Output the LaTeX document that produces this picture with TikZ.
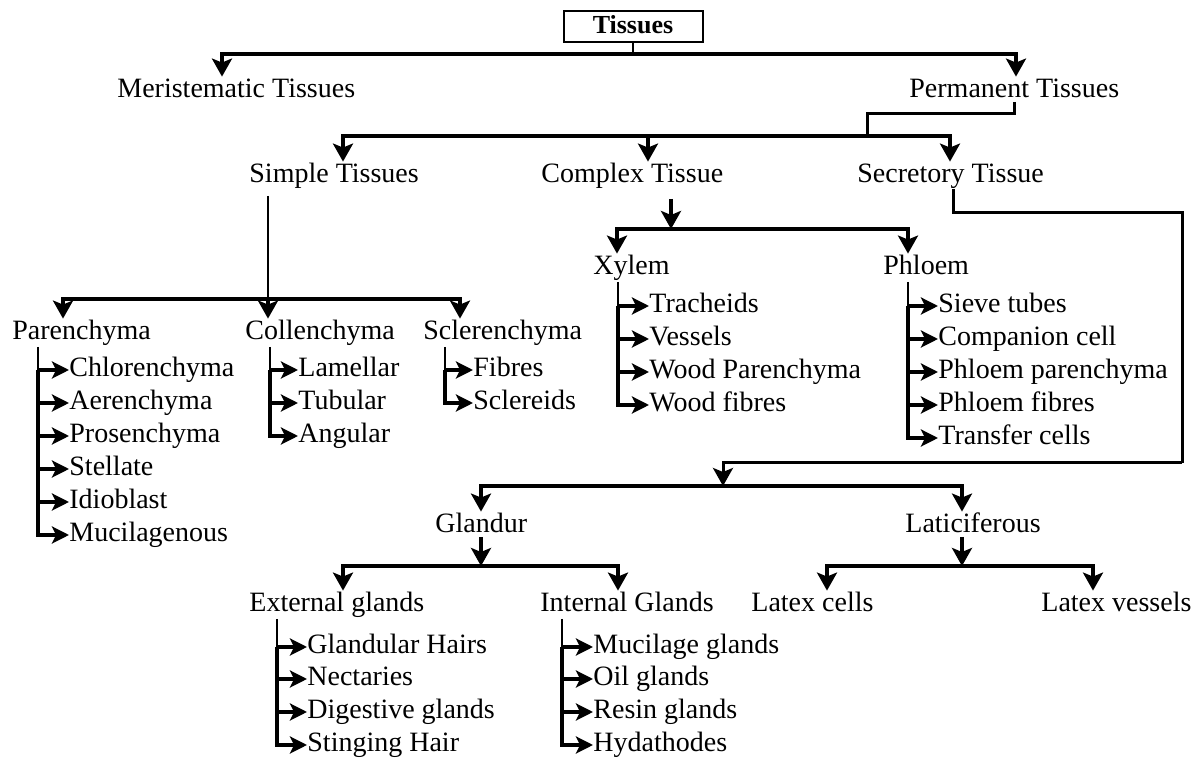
\documentclass[tikz,border=0pt]{standalone}
\usepackage{fontspec}
\setmainfont{Liberation Serif}
\usetikzlibrary{arrows.meta}

\begin{document}
\begin{tikzpicture}[
    x=0.5pt, y=-0.5pt,
    every node/.style={font=\fontsize{14}{17}\selectfont, text=black,
      inner sep=0pt, text height=10.5pt, text depth=3.5pt},
    lbl/.style={anchor=base west},
    rootbox/.style={draw, line width=1pt, font=\fontsize{13}{16}\selectfont\bfseries,
      minimum width=69.5pt, minimum height=15.5pt},
    busarrow/.style={line width=2pt, -{Stealth[length=9pt,width=10pt,inset=2pt]}},
    linkline/.style={line width=1.5pt},
    linkarrow/.style={line width=1.5pt, -{Stealth[length=9pt,width=10pt,inset=2pt]}},
    stemline/.style={line width=0.6pt},
    itemarrow/.style={line width=2pt, -{Stealth[length=8.5pt,width=8.5pt,inset=2pt]}},
  ]
  \useasboundingbox (0,0) rectangle (1196,758);

  %--------------------------------------
  % 1) Root and first split
  %--------------------------------------
  \node[rootbox] (tis) at (633,27) {Tissues};
  \coordinate (b0)  at (633,54);
  \coordinate (b0l) at (222,54);
  \coordinate (b0r) at (1016,54);

  \node[lbl] (mer)  at (117,98) {Meristematic Tissues};
  \node[lbl] (perm) at (909,98) {Permanent Tissues};

  \draw[stemline] (tis.south) -- (b0);
  \draw[busarrow] (b0) -- (b0l) -- (b0l |- mer.north);
  \draw[busarrow] (b0) -- (b0r) -- (b0r |- perm.north);

  %--------------------------------------
  % 2) Permanent tissues: simple, complex, secretory
  %--------------------------------------
  \coordinate (permS) at (1014,102);
  \coordinate (b1j) at (867,136);
  \coordinate (b1l) at (343,136);
  \coordinate (b1m) at (648,136);
  \coordinate (b1r) at (950,136);

  \node[lbl] (simp) at (249,183) {Simple Tissues};
  \node[lbl] (cplx) at (541,183) {Complex Tissue};
  \node[lbl] (secr) at (857,183) {Secretory Tissue};

  \draw[linkline] (permS) -- ++(0,12) -| (b1j);
  \draw[busarrow] (b1j) -- (b1l) -- (b1l |- simp.north);
  \draw[busarrow] (b1j) -- (b1r) -- (b1r |- secr.north);
  \draw[busarrow] (b1m) -- (b1m |- cplx.north);

  %--------------------------------------
  % 3) Simple tissues
  %--------------------------------------
  \coordinate (simpS) at (268,196);
  \coordinate (b2m) at (268,299);
  \coordinate (b2l) at (63,299);
  \coordinate (b2r) at (460,299);

  \node[lbl] (par) at (12,340)  {Parenchyma};
  \node[lbl] (col) at (245,340) {Collenchyma};
  \node[lbl] (scl) at (423,340) {Sclerenchyma};

  \draw[stemline] (simpS) -- (b2m);
  \draw[busarrow] (b2m) -- (b2l) -- (b2l |- par.north);
  \draw[busarrow] (b2m) -- (b2r) -- (b2r |- scl.north);
  \draw[busarrow] (b2m) -- (b2m |- col.north);

  % 3a) Parenchyma list
  \coordinate (parV) at (38,347);
  \node[lbl] (chl) at (69,377) {Chlorenchyma};
  \node[lbl] (aer) at (69,410) {Aerenchyma};
  \node[lbl] (pro) at (69,443) {Prosenchyma};
  \node[lbl] (ste) at (69,476) {Stellate};
  \node[lbl] (idi) at (69,509) {Idioblast};
  \node[lbl] (muc) at (69,542) {Mucilagenous};

  \draw[stemline] (parV) -- (parV |- chl.west);
  \draw[itemarrow] (parV |- chl.west) -- (chl.west);
  \draw[itemarrow] (parV |- aer.west) -- (aer.west);
  \draw[itemarrow] (parV |- pro.west) -- (pro.west);
  \draw[itemarrow] (parV |- ste.west) -- (ste.west);
  \draw[itemarrow] (parV |- idi.west) -- (idi.west);
  \draw[itemarrow] (parV |- chl.west) -- (parV |- muc.west) -- (muc.west);

  % 3b) Collenchyma list
  \coordinate (colV) at (270,347);
  \node[lbl] (lam) at (298,377) {Lamellar};
  \node[lbl] (tub) at (298,410) {Tubular};
  \node[lbl] (ang) at (298,443) {Angular};

  \draw[stemline] (colV) -- (colV |- lam.west);
  \draw[itemarrow] (colV |- lam.west) -- (lam.west);
  \draw[itemarrow] (colV |- tub.west) -- (tub.west);
  \draw[itemarrow] (colV |- lam.west) -- (colV |- ang.west) -- (ang.west);

  % 3c) Sclerenchyma list
  \coordinate (sclV) at (445,347);
  \node[lbl] (fib) at (473,377) {Fibres};
  \node[lbl] (scr) at (473,410) {Sclereids};

  \draw[stemline] (sclV) -- (sclV |- fib.west);
  \draw[itemarrow] (sclV |- fib.west) -- (fib.west);
  \draw[itemarrow] (sclV |- fib.west) -- (sclV |- scr.west) -- (scr.west);

  %--------------------------------------
  % 4) Complex tissue
  %--------------------------------------
  \coordinate (cplxS) at (671,199);
  \coordinate (b3m) at (671,229);
  \coordinate (b3l) at (617,229);
  \coordinate (b3r) at (908,229);

  \node[lbl] (xyl) at (593,275) {Xylem};
  \node[lbl] (phl) at (883,275) {Phloem};

  \draw[busarrow] (cplxS) -- (b3m);
  \draw[busarrow] (b3m) -- (b3l) -- (b3l |- xyl.north);
  \draw[busarrow] (b3m) -- (b3r) -- (b3r |- phl.north);

  % 4a) Xylem list
  \coordinate (xylV) at (618,282);
  \node[lbl] (tra) at (649,313) {Tracheids};
  \node[lbl] (ves) at (649,346) {Vessels};
  \node[lbl] (wpa) at (649,379) {Wood Parenchyma};
  \node[lbl] (wfi) at (649,412) {Wood fibres};

  \draw[stemline] (xylV) -- (xylV |- tra.west);
  \draw[itemarrow] (xylV |- tra.west) -- (tra.west);
  \draw[itemarrow] (xylV |- ves.west) -- (ves.west);
  \draw[itemarrow] (xylV |- wpa.west) -- (wpa.west);
  \draw[itemarrow] (xylV |- tra.west) -- (xylV |- wfi.west) -- (wfi.west);

  % 4b) Phloem list
  \coordinate (phlV) at (908,282);
  \node[lbl] (sie) at (938,313) {Sieve tubes};
  \node[lbl] (com) at (938,346) {Companion cell};
  \node[lbl] (ppa) at (938,379) {Phloem parenchyma};
  \node[lbl] (pfi) at (938,412) {Phloem fibres};
  \node[lbl] (trc) at (938,445) {Transfer cells};

  \draw[stemline] (phlV) -- (phlV |- sie.west);
  \draw[itemarrow] (phlV |- sie.west) -- (sie.west);
  \draw[itemarrow] (phlV |- com.west) -- (com.west);
  \draw[itemarrow] (phlV |- ppa.west) -- (ppa.west);
  \draw[itemarrow] (phlV |- pfi.west) -- (pfi.west);
  \draw[itemarrow] (phlV |- sie.west) -- (phlV |- trc.west) -- (trc.west);

  %--------------------------------------
  % 5) Secretory tissue
  %--------------------------------------
  \coordinate (secrS) at (953,189);
  \coordinate (secrR) at (1182,213);
  \coordinate (secrB) at (1182,463);
  \coordinate (b4m) at (723,486);
  \coordinate (b4l) at (481,486);
  \coordinate (b4r) at (962,486);

  \node[lbl] (gla) at (435,533) {Glandur};
  \node[lbl] (lat) at (905,533) {Laticiferous};

  \draw[linkline] (secrS) |- (secrR) -- (secrB);
  \draw[linkarrow] (secrB) -| (b4m);
  \draw[busarrow] (b4m) -- (b4l) -- (b4l |- gla.north);
  \draw[busarrow] (b4m) -- (b4r) -- (b4r |- lat.north);

  % 5a) Glandur split
  \coordinate (glaS) at (481,537);
  \coordinate (b5m) at (481,566);
  \coordinate (b5l) at (343,566);
  \coordinate (b5r) at (618,566);

  \node[lbl] (ext) at (249,612) {External glands};
  \node[lbl] (int) at (540,612) {Internal Glands};

  \draw[busarrow] (glaS) -- (b5m);
  \draw[busarrow] (b5m) -- (b5l) -- (b5l |- ext.north);
  \draw[busarrow] (b5m) -- (b5r) -- (b5r |- int.north);

  % 5b) Laticiferous split
  \coordinate (latS) at (962,537);
  \coordinate (b6m) at (962,566);
  \coordinate (b6l) at (827,566);
  \coordinate (b6r) at (1093,566);

  \node[lbl] (lce) at (751,612)  {Latex cells};
  \node[lbl] (lve) at (1041,612) {Latex vessels};

  \draw[busarrow] (latS) -- (b6m);
  \draw[busarrow] (b6m) -- (b6l) -- (b6l |- lce.north);
  \draw[busarrow] (b6m) -- (b6r) -- (b6r |- lve.north);

  % 5c) External glands list
  \coordinate (extV) at (277,619);
  \node[lbl] (gha) at (307,654) {Glandular Hairs};
  \node[lbl] (nec) at (307,686) {Nectaries};
  \node[lbl] (dig) at (307,719) {Digestive glands};
  \node[lbl] (sti) at (307,752) {Stinging Hair};

  \draw[stemline] (extV) -- (extV |- gha.west);
  \draw[itemarrow] (extV |- gha.west) -- (gha.west);
  \draw[itemarrow] (extV |- nec.west) -- (nec.west);
  \draw[itemarrow] (extV |- dig.west) -- (dig.west);
  \draw[itemarrow] (extV |- gha.west) -- (extV |- sti.west) -- (sti.west);

  % 5d) Internal glands list
  \coordinate (intV) at (562,619);
  \node[lbl] (mgl) at (593,654) {Mucilage glands};
  \node[lbl] (ogl) at (593,686) {Oil glands};
  \node[lbl] (rgl) at (593,719) {Resin glands};
  \node[lbl] (hyd) at (593,752) {Hydathodes};

  \draw[stemline] (intV) -- (intV |- mgl.west);
  \draw[itemarrow] (intV |- mgl.west) -- (mgl.west);
  \draw[itemarrow] (intV |- ogl.west) -- (ogl.west);
  \draw[itemarrow] (intV |- rgl.west) -- (rgl.west);
  \draw[itemarrow] (intV |- mgl.west) -- (intV |- hyd.west) -- (hyd.west);

\end{tikzpicture}
\end{document}
